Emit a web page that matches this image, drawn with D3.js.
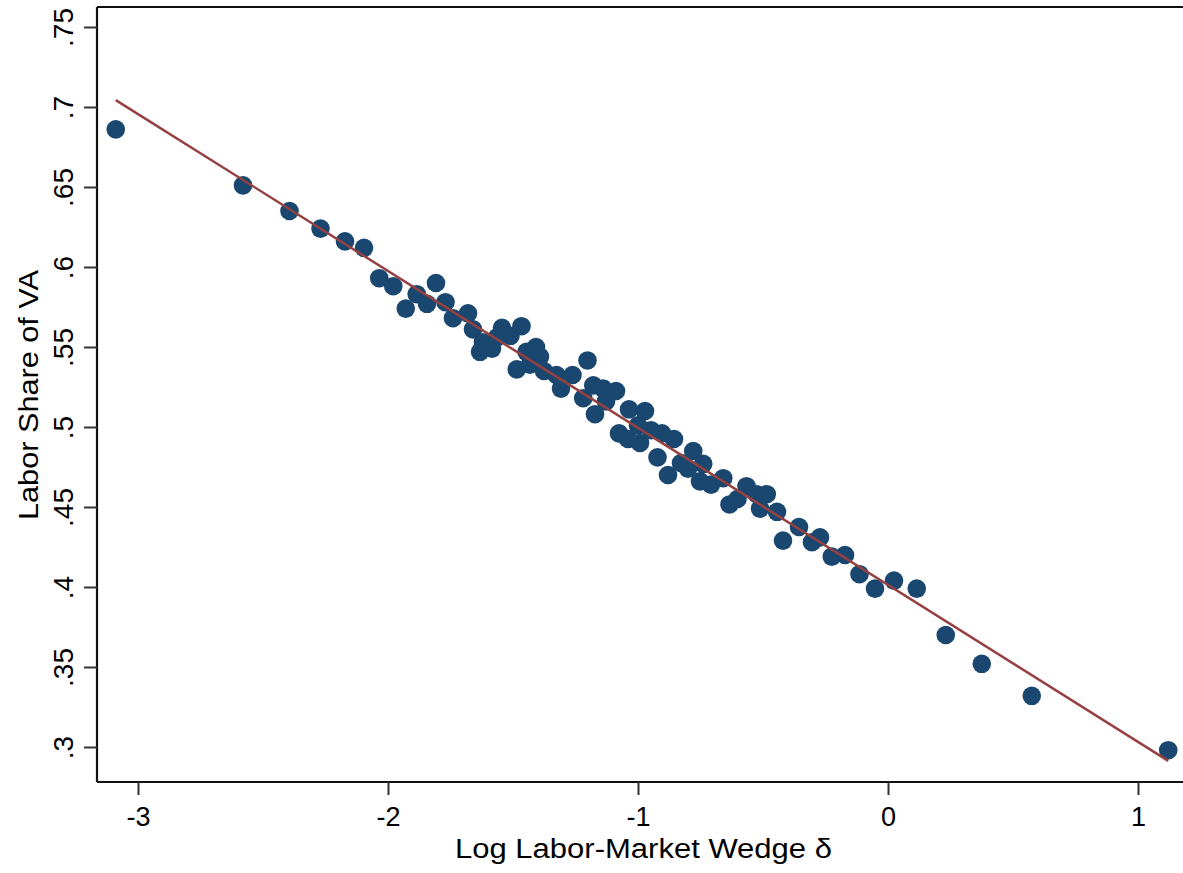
<!DOCTYPE html>
<html>
<head>
<meta charset="utf-8">
<script src="https://cdn.jsdelivr.net/npm/d3@7"></script>
<style>
  html, body { margin: 0; padding: 0; background: #ffffff; }
  svg { display: block; }
  text { font-family: "Liberation Sans", Arial, Helvetica, sans-serif; fill: #000; }
</style>
</head>
<body>
<svg id="chart" width="1183" height="873"></svg>
<script>
// Log labor-market wedge (x) and labor share of value added (y), one entry per bin
const wedge = [
  -3.089, -2.580, -2.394, -2.270, -2.172, -2.096, -2.035, -1.979, -1.929, -1.885,
  -1.844, -1.808, -1.770, -1.740, -1.680, -1.660, -1.620, -1.632, -1.584, -1.544,
  -1.510, -1.466, -1.485, -1.446, -1.408, -1.392, -1.432, -1.376, -1.326, -1.308,
  -1.262, -1.202, -1.219, -1.179, -1.172, -1.139, -1.088, -1.036, -0.972, -1.076,
  -1.040, -0.992, -0.948, -0.904, -0.856, -0.922, -0.880, -0.828, -0.779, -0.739,
  -0.752, -0.708, -0.659, -0.634, -0.602, -0.566, -0.525, -0.485, -0.512, -0.444,
  -0.420, -0.356, -0.304, -0.272, -0.225, -0.172, -0.114, -0.052, 0.024, 0.115,
  0.231, 0.375, 0.575, 1.121,
  -1.564, -1.128, -1.000, -0.800
];
const laborShare = [
  0.686, 0.651, 0.635, 0.624, 0.616, 0.612, 0.593, 0.588, 0.574, 0.583,
  0.577, 0.590, 0.578, 0.568, 0.571, 0.561, 0.553, 0.547, 0.549, 0.562,
  0.557, 0.563, 0.536, 0.547, 0.550, 0.544, 0.539, 0.535, 0.5325, 0.524,
  0.5325, 0.5416, 0.518, 0.526, 0.508, 0.524, 0.5225, 0.511, 0.510, 0.496,
  0.4925, 0.490, 0.498, 0.496, 0.4925, 0.481, 0.470, 0.4775, 0.485, 0.477,
  0.466, 0.464, 0.468, 0.4516, 0.455, 0.463, 0.458, 0.458, 0.449, 0.447,
  0.429, 0.4375, 0.428, 0.431, 0.419, 0.420, 0.408, 0.399, 0.404, 0.399,
  0.370, 0.352, 0.332, 0.298,
  0.556, 0.516, 0.501, 0.474
];
// Linear fit: intercept and slope
const fitCoef = [0.4013, -0.0981];

const xTicks = [-3, -2, -1, 0, 1];
const xTickLabels = ["-3", "-2", "-1", "0", "1"];
const yTicks = [0.3, 0.35, 0.4, 0.45, 0.5, 0.55, 0.6, 0.65, 0.7, 0.75];
const yTickLabels = [".3", ".35", ".4", ".45", ".5", ".55", ".6", ".65", ".7", ".75"];

const xTitle = "Log Labor-Market Wedge \u03b4";
const yTitle = "Labor Share of VA";

const svg = d3.select("#chart");
const plotLeft = 97, plotTop = 7, plotBottom = 782, plotRight = 1190;

const x = d3.scaleLinear().domain([-3, 1]).range([138, 1138]);
const y = d3.scaleLinear().domain([0.3, 0.75]).range([747, 27]);

// plot frame: top border plus left and bottom axis lines
const frame = svg.append("g").attr("stroke", "#111").attr("stroke-width", 2.2).attr("fill", "none");
frame.append("line").attr("x1", plotLeft).attr("x2", plotRight).attr("y1", plotTop).attr("y2", plotTop);
frame.append("line").attr("x1", plotLeft).attr("x2", plotLeft).attr("y1", plotTop).attr("y2", plotBottom);
frame.append("line").attr("x1", plotLeft).attr("x2", plotRight).attr("y1", plotBottom).attr("y2", plotBottom);

// y axis
const yAxis = d3.axisLeft(y).tickValues(yTicks).tickSize(13)
  .tickFormat((d, i) => yTickLabels[i]);
const gy = svg.append("g").attr("transform", `translate(${plotLeft},0)`).call(yAxis);
gy.select(".domain").remove();
gy.selectAll(".tick line").attr("stroke", "#333").attr("stroke-width", 2);
gy.selectAll(".tick text")
  .attr("x", null).attr("dy", null)
  .attr("transform", "translate(-24,0) rotate(-90)")
  .attr("text-anchor", "middle")
  .attr("font-size", 28)
  .attr("fill", "#000");

// x axis
const xAxis = d3.axisBottom(x).tickValues(xTicks).tickSize(13)
  .tickFormat((d, i) => xTickLabels[i]);
const gx = svg.append("g").attr("transform", `translate(0,${plotBottom})`).call(xAxis);
gx.select(".domain").remove();
gx.selectAll(".tick line").attr("stroke", "#333").attr("stroke-width", 2);
gx.selectAll(".tick text")
  .attr("y", 44).attr("dy", null)
  .attr("font-size", 27)
  .attr("fill", "#000");
svg.selectAll(".tick text").attr("font-family", "'Liberation Sans', Arial, Helvetica, sans-serif");

// axis titles
svg.append("text")
  .attr("x", 643.5).attr("y", 858)
  .attr("text-anchor", "middle")
  .attr("font-size", 27)
  .attr("textLength", 377).attr("lengthAdjust", "spacingAndGlyphs")
  .text(xTitle);

svg.append("text")
  .attr("transform", "translate(38,395) rotate(-90)")
  .attr("text-anchor", "middle")
  .attr("font-size", 27)
  .attr("textLength", 250).attr("lengthAdjust", "spacingAndGlyphs")
  .text(yTitle);

// scatter points
const points = wedge.map((d, i) => ({ x: d, y: laborShare[i] }));
svg.append("g")
  .selectAll("circle")
  .data(points)
  .join("circle")
  .attr("cx", d => x(d.x))
  .attr("cy", d => y(d.y))
  .attr("r", 9.3)
  .attr("fill", "#1a476f");

// fitted line over the range of the data
const xExt = d3.extent(wedge);
const fitPts = xExt.map(v => ({ x: v, y: fitCoef[0] + fitCoef[1] * v }));
svg.append("path")
  .datum(fitPts)
  .attr("fill", "none")
  .attr("stroke", "#964141")
  .attr("stroke-width", 2.5)
  .attr("d", d3.line().x(d => x(d.x)).y(d => y(d.y)));
</script>
</body>
</html>
